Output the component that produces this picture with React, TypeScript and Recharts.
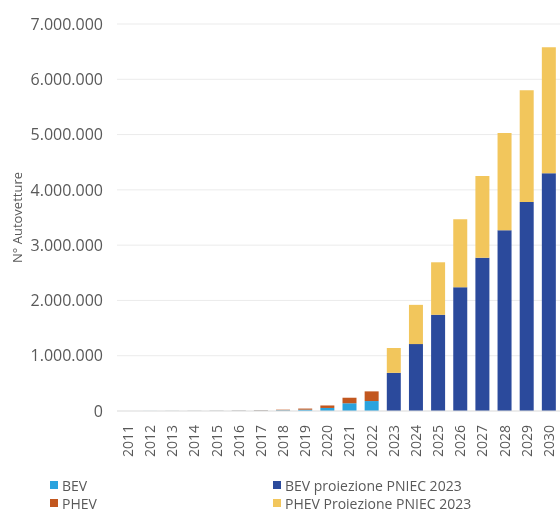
import { BarChart, Bar, XAxis, YAxis, CartesianGrid, Legend } from 'recharts';

// anni e valori (parco auto elettriche in Italia)
const anni = ['2011', '2012', '2013', '2014', '2015', '2016', '2017', '2018', '2019', '2020',
    '2021', '2022', '2023', '2024', '2025', '2026', '2027', '2028', '2029', '2030'];
const bev = [400, 700, 1100, 1600, 2500, 4200, 7500, 13000, 24000, 55000, 140000, 180000, 0, 0, 0, 0, 0, 0, 0, 0];
const phev = [300, 500, 900, 1400, 2300, 3800, 6500, 11000, 20000, 45000, 100000, 175000, 0, 0, 0, 0, 0, 0, 0, 0];
const bevPniec = [0, 0, 0, 0, 0, 0, 0, 0, 0, 0, 0, 0, 690000, 1210000, 1740000, 2240000, 2770000, 3270000, 3780000, 4300000];
const phevPniec = [0, 0, 0, 0, 0, 0, 0, 0, 0, 0, 0, 0, 450000, 710000, 950000, 1230000, 1480000, 1760000, 2020000, 2280000];
const yTicks = [0, 1000000, 2000000, 3000000, 4000000, 5000000, 6000000, 7000000];

const serie = [
    { key: 'bev', name: 'BEV', color: '#2aa3de' },
    { key: 'phev', name: 'PHEV', color: '#c2571f' },
    { key: 'bevPniec', name: 'BEV proiezione PNIEC 2023', color: '#2b4a9c' },
    { key: 'phevPniec', name: 'PHEV Proiezione PNIEC 2023', color: '#f2c65c' },
];

const data = anni.map((anno, i) => ({
    anno,
    bev: bev[i],
    phev: phev[i],
    bevPniec: bevPniec[i],
    phevPniec: phevPniec[i],
}));

const formatMigliaia = (v: number) => String(v).replace(/\B(?=(\d{3})+(?!\d))/g, '.');

const TickAnno = (props: any) => {
    const { x, y, payload } = props;
    return (
        <text transform={`translate(${x},${y}) rotate(-90)`} textAnchor="end" dy="0.35em"
            fill="#595959" fontSize={14}>
            {payload.value}
        </text>
    );
};

const Legenda = () => {
    const riga = (s: typeof serie[number]) => (
        <div key={s.key} style={{ display: 'flex', alignItems: 'center', height: 18 }}>
            <span style={{ width: 8, height: 8, background: s.color, marginRight: 4 }} />
            <span>{s.name}</span>
        </div>
    );
    return (
        <div style={{ position: 'relative', width: 560, height: 36, fontSize: 14, color: '#595959' }}>
            <div style={{ position: 'absolute', left: 50, top: 0 }}>
                {riga(serie[0])}
                {riga(serie[1])}
            </div>
            <div style={{ position: 'absolute', left: 273, top: 0 }}>
                {riga(serie[2])}
                {riga(serie[3])}
            </div>
        </div>
    );
};

const App = () => {
    return (
        <div style={{ position: 'fixed', left: 0, top: 0, fontFamily: '"Open Sans", sans-serif' }}>
            <BarChart width={560} height={511} data={data}
                margin={{ top: 24, right: 0, left: 0, bottom: 0 }} barSize={14}>
                <CartesianGrid vertical={false} stroke="#ebebeb" />
                <XAxis dataKey="anno" interval={0} height={100} tickLine={false} tickSize={0} tickMargin={14}
                    axisLine={{ stroke: '#e3e3e3' }} tick={<TickAnno />} />
                <YAxis width={117} domain={[0, 7000000]} ticks={yTicks} tickFormatter={formatMigliaia}
                    axisLine={false} tickLine={false} tickSize={0} tickMargin={14}
                    tick={{ fill: '#595959', fontSize: 16 }}
                    label={{
                        content: (p: any) => (
                            <text transform={`translate(17,${p.viewBox.y + p.viewBox.height / 2}) rotate(-90)`}
                                textAnchor="middle" dominantBaseline="central" fill="#595959" fontSize={13}>
                                N° Autovetture
                            </text>
                        ),
                    }} />
                <Legend layout="vertical" align="center" verticalAlign="middle"
                    wrapperStyle={{ left: 0, top: 476, width: 560 }} content={<Legenda />} />
                {serie.map((s) => (
                    <Bar key={s.key} dataKey={s.key} name={s.name} stackId="a" fill={s.color}
                        isAnimationActive={false} />
                ))}
            </BarChart>
        </div>
    );
};

export default App;
